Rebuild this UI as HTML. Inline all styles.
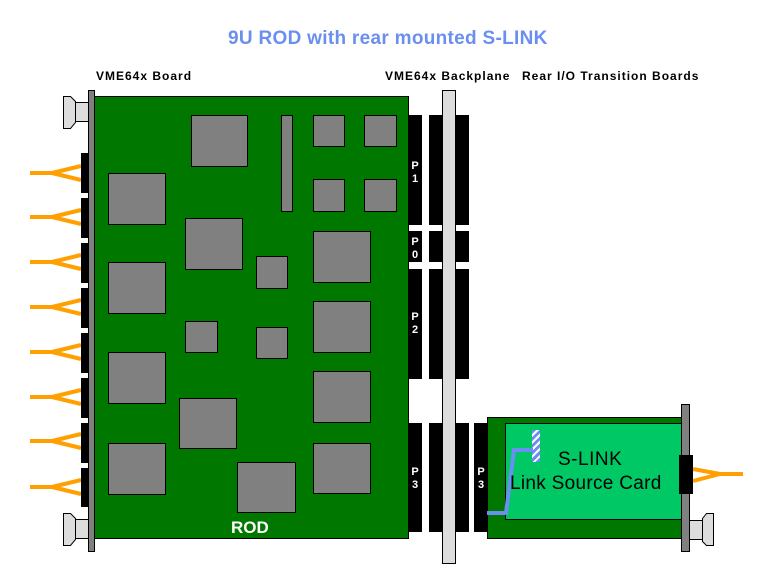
<!DOCTYPE html>
<html><head><style>
body{margin:0;width:768px;height:576px;background:#fff;position:relative;overflow:hidden;font-family:"Liberation Sans",Arial,sans-serif}
div{position:absolute;box-sizing:border-box}
.chip{background:#808080;border:1px solid #000}
.blk{background:#000}
.lbl{font-weight:bold;font-size:12px;color:#000;white-space:nowrap;letter-spacing:1px}
.pl{color:#fff;font-weight:bold;font-size:11px;line-height:13px;text-align:center;width:14px}
</style></head><body>
<div style="left:228px;top:28px;font-size:19px;font-weight:bold;color:#6a8ff0;white-space:nowrap;letter-spacing:0.3px">9U ROD with rear mounted S-LINK</div>
<div class="lbl" style="left:96px;top:69px">VME64x Board</div>
<div class="lbl" style="left:385px;top:69px">VME64x Backplane</div>
<div class="lbl" style="left:522px;top:69px">Rear I/O Transition Boards</div>

<svg width="768" height="576" style="position:absolute;left:0;top:0">
<g stroke="#ffa000" stroke-width="4" fill="none">
<path d="M30 173 L52 173 L81 166 M52 173 L81 180"/>
<path d="M30 217 L52 217 L81 210 M52 217 L81 224"/>
<path d="M30 262 L52 262 L81 255 M52 262 L81 269"/>
<path d="M30 307 L52 307 L81 300 M52 307 L81 314"/>
<path d="M30 352 L52 352 L81 345 M52 352 L81 359"/>
<path d="M30 397 L52 397 L81 390 M52 397 L81 404"/>
<path d="M30 441 L52 441 L81 434 M52 441 L81 448"/>
<path d="M30 487 L52 487 L81 480 M52 487 L81 494"/>
<path d="M743 474 L720 474 L693 469 M720 474 L693 481"/>
</g>
<g fill="#ddd" stroke="#000" stroke-width="1">
<rect x="75.5" y="102.5" width="13" height="19"/>
<path d="M63.5 96.5 L70.5 96.5 L75.5 101.5 L75.5 122.5 L70.5 128.5 L63.5 128.5 Z"/>
<rect x="75.5" y="519.5" width="13" height="19"/>
<path d="M63.5 513.5 L70.5 513.5 L75.5 518.5 L75.5 539.5 L70.5 545.5 L63.5 545.5 Z"/>
<rect x="689.5" y="520.5" width="13" height="19"/>
<path d="M713.5 513.5 L706.5 513.5 L702.5 518.5 L702.5 541.5 L706.5 545.5 L713.5 545.5 Z"/>
</g>
</svg>

<div class="blk" style="left:81px;top:153px;width:8px;height:40px"></div>
<div class="blk" style="left:81px;top:198px;width:8px;height:40px"></div>
<div class="blk" style="left:81px;top:243px;width:8px;height:40px"></div>
<div class="blk" style="left:81px;top:288px;width:8px;height:40px"></div>
<div class="blk" style="left:81px;top:333px;width:8px;height:40px"></div>
<div class="blk" style="left:81px;top:378px;width:8px;height:40px"></div>
<div class="blk" style="left:81px;top:423px;width:8px;height:40px"></div>
<div class="blk" style="left:81px;top:468px;width:8px;height:39px"></div>

<div style="left:88px;top:90px;width:7px;height:462px;background:#808080;border:1px solid #000"></div>
<div style="left:94px;top:96px;width:315px;height:443px;background:#007800;border:1px solid #000"></div>
<div style="left:231px;top:518px;color:#fff;font-size:17px;font-weight:bold">ROD</div>

<div class="chip" style="left:191px;top:115px;width:57px;height:52px"></div>
<div class="chip" style="left:281px;top:115px;width:12px;height:97px"></div>
<div class="chip" style="left:313px;top:115px;width:32px;height:32px"></div>
<div class="chip" style="left:364px;top:115px;width:33px;height:32px"></div>
<div class="chip" style="left:313px;top:179px;width:32px;height:33px"></div>
<div class="chip" style="left:364px;top:179px;width:33px;height:33px"></div>
<div class="chip" style="left:108px;top:173px;width:58px;height:52px"></div>
<div class="chip" style="left:185px;top:218px;width:58px;height:52px"></div>
<div class="chip" style="left:256px;top:256px;width:32px;height:33px"></div>
<div class="chip" style="left:313px;top:231px;width:58px;height:52px"></div>
<div class="chip" style="left:108px;top:262px;width:58px;height:52px"></div>
<div class="chip" style="left:185px;top:321px;width:33px;height:32px"></div>
<div class="chip" style="left:256px;top:327px;width:32px;height:32px"></div>
<div class="chip" style="left:313px;top:301px;width:58px;height:52px"></div>
<div class="chip" style="left:108px;top:352px;width:58px;height:52px"></div>
<div class="chip" style="left:179px;top:398px;width:58px;height:51px"></div>
<div class="chip" style="left:313px;top:371px;width:58px;height:52px"></div>
<div class="chip" style="left:108px;top:443px;width:58px;height:52px"></div>
<div class="chip" style="left:313px;top:443px;width:58px;height:51px"></div>
<div class="chip" style="left:237px;top:462px;width:59px;height:51px"></div>

<div class="blk" style="left:408px;top:115px;width:14px;height:110px"></div>
<div class="blk" style="left:408px;top:231px;width:14px;height:31px"></div>
<div class="blk" style="left:408px;top:269px;width:14px;height:110px"></div>
<div class="blk" style="left:408px;top:423px;width:14px;height:109px"></div>
<div class="pl" style="left:408px;top:160px">P<br>1</div>
<div class="pl" style="left:408px;top:236px">P<br>0</div>
<div class="pl" style="left:408px;top:311px">P<br>2</div>
<div class="pl" style="left:408px;top:466px">P<br>3</div>
<div class="blk" style="left:429px;top:115px;width:40px;height:110px"></div>
<div class="blk" style="left:429px;top:231px;width:40px;height:31px"></div>
<div class="blk" style="left:429px;top:269px;width:40px;height:110px"></div>
<div class="blk" style="left:429px;top:423px;width:40px;height:109px"></div>
<div style="left:442px;top:90px;width:14px;height:474px;background:#ddd;border:1px solid #000"></div>

<div class="blk" style="left:474px;top:423px;width:14px;height:109px"></div>
<div class="pl" style="left:474px;top:466px">P<br>3</div>
<div style="left:487px;top:417px;width:196px;height:122px;background:#007800;border:1px solid #000"></div>
<div style="left:505px;top:423px;width:177px;height:97px;background:#00c864;border:1px solid #000"></div>
<div style="left:532px;top:430px;width:8px;height:32px;background:repeating-linear-gradient(135deg,#6a8ff0 0 3px,#fff 3px 5px)"></div>
<svg width="768" height="576" style="position:absolute;left:0;top:0">
<path d="M487 513 L506 513 L514 450 L533 450" stroke="#6a8ff0" stroke-width="4" fill="none"/>
<rect x="688" y="436" width="2" height="4" fill="#f00"/><rect x="688" y="444" width="2" height="4" fill="#f00"/>
</svg>
<div style="left:558px;top:449px;font-size:19px;color:#000;letter-spacing:0.5px">S-LINK</div>
<div style="left:510px;top:473px;font-size:19px;color:#000;white-space:nowrap;letter-spacing:0.3px">Link Source Card</div>
<div style="left:681px;top:404px;width:9px;height:148px;background:#808080;border:1px solid #000"></div>
<div class="blk" style="left:679px;top:455px;width:14px;height:39px"></div>
</body></html>
